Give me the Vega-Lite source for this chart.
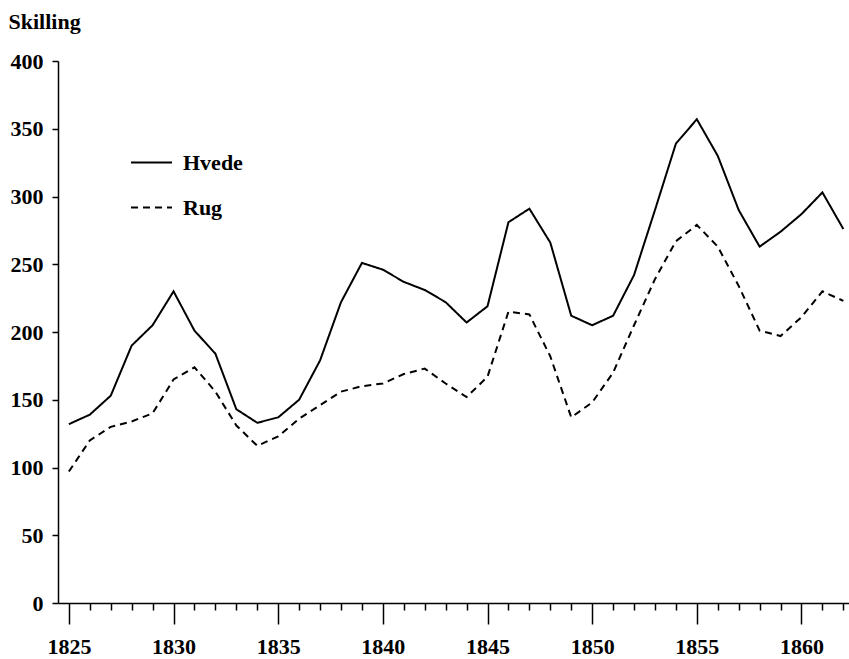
{
  "$schema": "https://vega.github.io/schema/vega-lite/v6.json",
  "width": 791,
  "height": 542,
  "autosize": "none",
  "padding": {"left": 58, "top": 61, "right": 0, "bottom": 56},
  "background": "white",
  "config": {"view": {"stroke": null}, "font": "Liberation Serif"},
  "data": {"values": [
    {"year": 1825, "grain": "Hvede", "price": 132}, {"year": 1826, "grain": "Hvede", "price": 139},
    {"year": 1827, "grain": "Hvede", "price": 153}, {"year": 1828, "grain": "Hvede", "price": 190},
    {"year": 1829, "grain": "Hvede", "price": 205}, {"year": 1830, "grain": "Hvede", "price": 230},
    {"year": 1831, "grain": "Hvede", "price": 201}, {"year": 1832, "grain": "Hvede", "price": 184},
    {"year": 1833, "grain": "Hvede", "price": 143}, {"year": 1834, "grain": "Hvede", "price": 133},
    {"year": 1835, "grain": "Hvede", "price": 137}, {"year": 1836, "grain": "Hvede", "price": 150},
    {"year": 1837, "grain": "Hvede", "price": 179}, {"year": 1838, "grain": "Hvede", "price": 222},
    {"year": 1839, "grain": "Hvede", "price": 251}, {"year": 1840, "grain": "Hvede", "price": 246},
    {"year": 1841, "grain": "Hvede", "price": 237}, {"year": 1842, "grain": "Hvede", "price": 231},
    {"year": 1843, "grain": "Hvede", "price": 222}, {"year": 1844, "grain": "Hvede", "price": 207},
    {"year": 1845, "grain": "Hvede", "price": 219}, {"year": 1846, "grain": "Hvede", "price": 281},
    {"year": 1847, "grain": "Hvede", "price": 291}, {"year": 1848, "grain": "Hvede", "price": 266},
    {"year": 1849, "grain": "Hvede", "price": 212}, {"year": 1850, "grain": "Hvede", "price": 205},
    {"year": 1851, "grain": "Hvede", "price": 212}, {"year": 1852, "grain": "Hvede", "price": 242},
    {"year": 1853, "grain": "Hvede", "price": 290}, {"year": 1854, "grain": "Hvede", "price": 339},
    {"year": 1855, "grain": "Hvede", "price": 357}, {"year": 1856, "grain": "Hvede", "price": 330},
    {"year": 1857, "grain": "Hvede", "price": 290}, {"year": 1858, "grain": "Hvede", "price": 263},
    {"year": 1859, "grain": "Hvede", "price": 274}, {"year": 1860, "grain": "Hvede", "price": 287},
    {"year": 1861, "grain": "Hvede", "price": 303}, {"year": 1862, "grain": "Hvede", "price": 276},
    {"year": 1825, "grain": "Rug", "price": 97}, {"year": 1826, "grain": "Rug", "price": 120},
    {"year": 1827, "grain": "Rug", "price": 130}, {"year": 1828, "grain": "Rug", "price": 134},
    {"year": 1829, "grain": "Rug", "price": 140}, {"year": 1830, "grain": "Rug", "price": 165},
    {"year": 1831, "grain": "Rug", "price": 174}, {"year": 1832, "grain": "Rug", "price": 156},
    {"year": 1833, "grain": "Rug", "price": 131}, {"year": 1834, "grain": "Rug", "price": 116},
    {"year": 1835, "grain": "Rug", "price": 123}, {"year": 1836, "grain": "Rug", "price": 136},
    {"year": 1837, "grain": "Rug", "price": 146}, {"year": 1838, "grain": "Rug", "price": 156},
    {"year": 1839, "grain": "Rug", "price": 160}, {"year": 1840, "grain": "Rug", "price": 162},
    {"year": 1841, "grain": "Rug", "price": 169}, {"year": 1842, "grain": "Rug", "price": 173},
    {"year": 1843, "grain": "Rug", "price": 162}, {"year": 1844, "grain": "Rug", "price": 152},
    {"year": 1845, "grain": "Rug", "price": 167}, {"year": 1846, "grain": "Rug", "price": 215},
    {"year": 1847, "grain": "Rug", "price": 213}, {"year": 1848, "grain": "Rug", "price": 182},
    {"year": 1849, "grain": "Rug", "price": 137}, {"year": 1850, "grain": "Rug", "price": 148},
    {"year": 1851, "grain": "Rug", "price": 170}, {"year": 1852, "grain": "Rug", "price": 205},
    {"year": 1853, "grain": "Rug", "price": 239}, {"year": 1854, "grain": "Rug", "price": 267},
    {"year": 1855, "grain": "Rug", "price": 279}, {"year": 1856, "grain": "Rug", "price": 263},
    {"year": 1857, "grain": "Rug", "price": 234}, {"year": 1858, "grain": "Rug", "price": 201},
    {"year": 1859, "grain": "Rug", "price": 197}, {"year": 1860, "grain": "Rug", "price": 211},
    {"year": 1861, "grain": "Rug", "price": 230}, {"year": 1862, "grain": "Rug", "price": 223}
  ]},
  "mark": {"type": "line", "color": "black", "strokeWidth": 2},
  "encoding": {
    "x": {
      "field": "year", "type": "quantitative",
      "scale": {"domain": [1824.48, 1862.27], "nice": false, "zero": false},
      "axis": {
        "values": [1825,1826,1827,1828,1829,1830,1831,1832,1833,1834,1835,1836,1837,1838,1839,1840,1841,1842,1843,1844,1845,1846,1847,1848,1849,1850,1851,1852,1853,1854,1855,1856,1857,1858,1859,1860,1861,1862],
        "format": "d",
        "labelExpr": "datum.value % 5 === 0 ? datum.label : ''",
        "tickSize": {"condition": {"test": "datum.value % 5 === 0", "value": 21}, "value": 7},
        "labelPadding": 12,
        "labelFontSize": 22,
        "labelFont": "Liberation Serif",
        "labelFontWeight": "bold",
        "labelColor": "black",
        "labelOverlap": false,
        "labelFlush": false,
        "domainColor": "black",
        "domainWidth": 1.5,
        "tickColor": "black",
        "tickWidth": 1.5,
        "grid": false,
        "title": null
      }
    },
    "y": {
      "field": "price", "type": "quantitative",
      "scale": {"domain": [0, 400], "nice": false},
      "axis": {
        "values": [0, 50, 100, 150, 200, 250, 300, 350, 400],
        "tickSize": 6,
        "labelPadding": 9,
        "labelFontSize": 22,
        "labelFont": "Liberation Serif",
        "labelFontWeight": "bold",
        "labelColor": "black",
        "domainColor": "black",
        "domainWidth": 1.5,
        "tickColor": "black",
        "tickWidth": 1.5,
        "grid": false,
        "title": "Skilling",
        "titleAngle": 0,
        "titleAlign": "left",
        "titleBaseline": "alphabetic",
        "titleX": -50,
        "titleY": -33,
        "titleFontSize": 22,
        "titleFont": "Liberation Serif",
        "titleFontWeight": "bold",
        "titleColor": "black"
      }
    },
    "strokeDash": {
      "field": "grain", "type": "nominal",
      "scale": {"domain": ["Hvede", "Rug"], "range": [[1, 0], [7, 5]]},
      "legend": {
        "orient": "none",
        "legendX": 72,
        "legendY": 80,
        "title": null,
        "padding": 0,
        "symbolType": "stroke",
        "symbolSize": 1681,
        "symbolStrokeWidth": 2,
        "symbolStrokeColor": "black",
        "labelFontSize": 22,
        "labelFont": "Liberation Serif",
        "labelFontWeight": "bold",
        "labelColor": "black",
        "labelOffset": 10,
        "rowPadding": 12
      }
    }
  }
}
